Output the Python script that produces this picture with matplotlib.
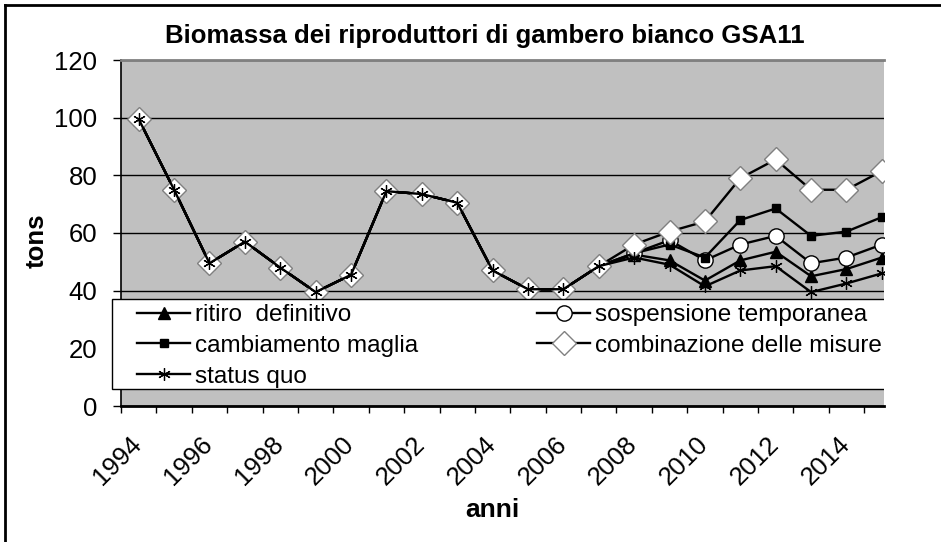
import numpy as np
import matplotlib.pyplot as plt
from matplotlib.lines import Line2D
from matplotlib.patches import Rectangle
from matplotlib.transforms import Bbox, TransformedBbox, ScaledTranslation

plt.rcParams['font.family'] = ['Liberation Sans', 'DejaVu Sans']

# data (tons)
years = list(range(1994, 2016))
common = [99.5, 75, 49.5, 57, 48, 39.5, 45.5, 74.5, 73.5, 70.5, 47, 40.5, 40.5, 48.5]
ritiro = common + [52.5, 50.5, 43.5, 50.5, 53.5, 45, 47.5, 51.5]
sospensione = common + [53, 57.5, 50.5, 56, 59, 49.5, 51.5, 56]
cambiamento = common + [53, 56, 51.5, 64.5, 68.5, 59, 60.5, 65.5]
combinazione = common + [56, 60.5, 64, 79, 85.5, 75, 75, 81.5]
status_quo = common + [51.5, 49, 41.5, 47, 48.5, 39.5, 42.5, 46]
labels = ['ritiro  definitivo', 'sospensione temporanea', 'cambiamento maglia',
          'combinazione delle misure', 'status quo']

W, H = 941, 542
fig = plt.figure(figsize=(W / 100, H / 100), dpi=100)


def fx(px):
    return px / W


def fy(py):
    return 1 - py / H


ax = fig.add_axes([fx(121), fy(406), fx(884) - fx(121), fy(60) - fy(406)])
ax.set_facecolor('#c0c0c0')

styles = [
    dict(marker='^', ms=8.5, mfc='black', mec='black'),
    dict(marker='o', ms=11, mfc='white', mec='black', mew=1),
    dict(marker='s', ms=5.5, mfc='black', mec='black'),
    dict(marker='D', ms=12.5, mfc='white', mec='#808080', mew=1),
    dict(marker=(6, 2, 0), ms=9, mec='black', mew=0.9),
]
data = [ritiro, sospensione, cambiamento, combinazione, status_quo]

handles = []
for vals, lab, st in zip(data, labels, styles):
    h, = ax.plot(years, vals, color='black', lw=1.7, label=lab, zorder=3, **st)
    handles.append(h)

ax.set_xlim(1993.5, 2015.06)
ax.set_ylim(0, 120)
ax.set_yticks(range(0, 121, 20))
ax.set_xticks(range(1994, 2015, 2))
ax.set_xticks(np.arange(1993.5, 2015, 1), minor=True)

ax.tick_params(axis='x', which='major', length=0, pad=19, labelsize=18.5)
ax.tick_params(axis='x', which='minor', length=5, width=1, direction='out')
ax.tick_params(axis='y', length=6, width=1, direction='out', pad=11, labelsize=18.5)
off = ScaledTranslation(-9 / 100, 0, fig.dpi_scale_trans)
for t in ax.get_xticklabels():
    t.set_rotation(45)
    t.set_ha('right')
    t.set_va('top')
    t.set_rotation_mode('anchor')
    t.set_transform(t.get_transform() + off)

ax.yaxis.grid(True, color='black', lw=1)
ax.set_axisbelow(True)
ax.spines['right'].set_visible(False)
ax.spines['top'].set_color('#808080')
ax.spines['top'].set_linewidth(2)
ax.spines['left'].set_linewidth(1.2)
ax.spines['bottom'].set_linewidth(2)

# titles
fig.text(fx(484.5), fy(43), 'Biomassa dei riproduttori di gambero bianco GSA11',
         ha='center', va='baseline', fontsize=18.5, fontweight='bold')
fig.text(fx(37), fy(241), 'tons', rotation=90, ha='center', va='center',
         fontsize=18.5, fontweight='bold')
fig.text(fx(492.5), fy(517), 'anni', ha='center', va='baseline',
         fontsize=19, fontweight='bold')

# legend box (cut at the right edge of the plot)
box = Rectangle((fx(112), fy(389)), fx(920) - fx(112), fy(299) - fy(389),
                transform=fig.transFigure, facecolor='white', edgecolor='black',
                lw=1, zorder=3)
fig.add_artist(box)
box.set_clip_box(TransformedBbox(Bbox([[0, 0], [884 / W, 1]]), fig.transFigure))

order = [0, 2, 4, 1, 3]
fig.legend([handles[i] for i in order], [labels[i] for i in order], ncol=2,
           mode='expand', loc='upper left', frameon=False, fontsize=17.5,
           bbox_to_anchor=(fx(137), fy(389), fx(882) - fx(137), fy(304) - fy(389)),
           borderpad=0, borderaxespad=0, labelspacing=0.36, handlelength=2.2,
           handletextpad=0.2, columnspacing=1.0)

# outer frame (left and top only)
fig.add_artist(Line2D([fx(5), fx(5)], [fy(5), 0], transform=fig.transFigure,
                      color='black', lw=2))
fig.add_artist(Line2D([fx(5), 1], [fy(5), fy(5)], transform=fig.transFigure,
                      color='black', lw=2))

fig.savefig('out.png', dpi=100)
